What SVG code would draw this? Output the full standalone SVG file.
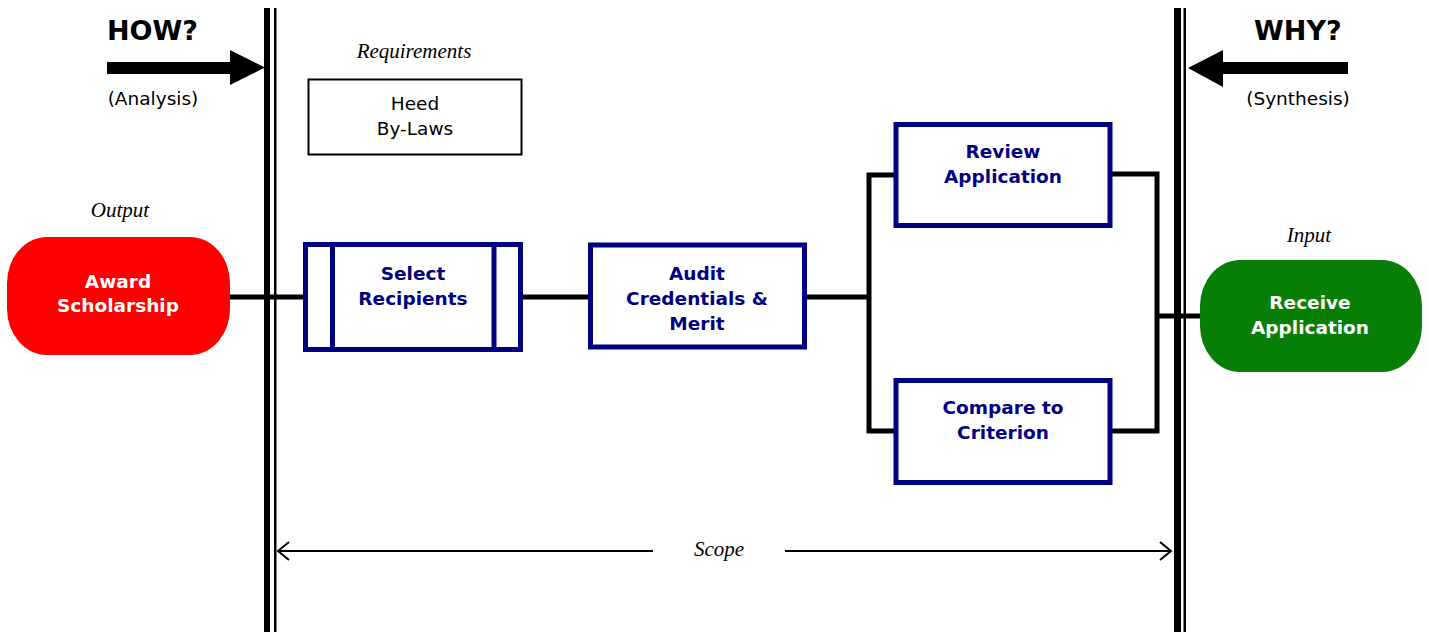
<svg xmlns="http://www.w3.org/2000/svg" width="1429" height="632" viewBox="0 0 1429 632">
<style>
.bar{fill:#000}
.box{fill:#fff;stroke:#000080;stroke-width:5}
.bt{font-family:"DejaVu Sans",Verdana,sans-serif;font-weight:bold;font-size:18.5px;fill:#000080;text-anchor:middle}
.wt{font-family:"DejaVu Sans",Verdana,sans-serif;font-weight:bold;font-size:18.5px;fill:#fff;text-anchor:middle}
.rt{font-family:"DejaVu Sans",Verdana,sans-serif;font-size:18.5px;fill:#000;text-anchor:middle}
.it{font-family:"Liberation Serif","Times New Roman",serif;font-style:italic;font-size:21px;fill:#000;text-anchor:middle}
.ht{font-family:"DejaVu Sans",Verdana,sans-serif;font-weight:bold;font-size:27px;fill:#000}
.con{fill:none;stroke:#000;stroke-width:5}
</style>
<rect width="1429" height="632" fill="#fff"/>
<g id="left-boundary">
<rect class="bar" x="264" y="8" width="6" height="624"/>
<rect class="bar" x="274" y="8" width="2.5" height="624"/>
</g>
<g id="right-boundary">
<rect class="bar" x="1174" y="8" width="7" height="624"/>
<rect class="bar" x="1183.5" y="8" width="2.5" height="624"/>
</g>
<g id="how">
<text class="ht" x="107" y="40">HOW?</text>
<polygon points="107,62 230,62 230,50 265,67.5 230,85 230,74 107,74" fill="#000"/>
<text class="rt" x="153" y="105">(Analysis)</text>
</g>
<g id="why">
<text class="ht" x="1254" y="40">WHY?</text>
<polygon points="1348,62 1223,62 1223,50 1188,68 1223,87 1223,74 1348,74" fill="#000"/>
<text class="rt" x="1298" y="105">(Synthesis)</text>
</g>
<g id="connectors">
<line class="con" x1="230" y1="297" x2="304" y2="297"/>
<line class="con" x1="521" y1="297" x2="589" y2="297"/>
<line class="con" x1="805" y1="297" x2="869" y2="297"/>
<polyline class="con" points="894,175 869,175 869,431 894,431"/>
<polyline class="con" points="1112,174 1157,174 1157,431 1112,431"/>
<line class="con" x1="1157" y1="316" x2="1201" y2="316"/>
</g>
<g id="requirements">
<text class="it" x="414" y="58">Requirements</text>
<rect x="308.5" y="79.5" width="213" height="75" fill="#fff" stroke="#000" stroke-width="2"/>
<text class="rt" x="415" y="110">Heed</text>
<text class="rt" x="415" y="135">By-Laws</text>
</g>
<g id="award-scholarship">
<text class="it" x="120" y="217">Output</text>
<rect x="7" y="237" width="223" height="118" rx="40" ry="46" fill="#ff0000"/>
<text class="wt" x="118" y="288">Award</text>
<text class="wt" x="118" y="312">Scholarship</text>
</g>
<g id="select-recipients">
<rect class="box" x="305.5" y="244.5" width="215" height="105"/>
<line x1="332.5" y1="244.5" x2="332.5" y2="349.5" stroke="#000080" stroke-width="5"/>
<line x1="494" y1="244.5" x2="494" y2="349.5" stroke="#000080" stroke-width="5"/>
<text class="bt" x="413" y="280">Select</text>
<text class="bt" x="413" y="305">Recipients</text>
</g>
<g id="audit">
<rect class="box" x="590.5" y="245" width="214" height="102"/>
<text class="bt" x="697" y="280">Audit</text>
<text class="bt" x="697" y="305">Credentials &amp;</text>
<text class="bt" x="697" y="330">Merit</text>
</g>
<g id="review-application">
<rect class="box" x="896" y="124.5" width="214" height="101"/>
<text class="bt" x="1003" y="158">Review</text>
<text class="bt" x="1003" y="183">Application</text>
</g>
<g id="compare-criterion">
<rect class="box" x="896" y="380.5" width="214" height="102"/>
<text class="bt" x="1003" y="414">Compare to</text>
<text class="bt" x="1003" y="439">Criterion</text>
</g>
<g id="receive-application">
<text class="it" x="1309" y="242">Input</text>
<rect x="1200" y="260" width="222" height="112" rx="40" ry="46" fill="#077f07"/>
<text class="wt" x="1310" y="309">Receive</text>
<text class="wt" x="1310" y="334">Application</text>
</g>
<g id="scope">
<line x1="278" y1="551" x2="653" y2="551" stroke="#000" stroke-width="2"/>
<line x1="785" y1="551" x2="1171" y2="551" stroke="#000" stroke-width="2"/>
<polyline points="289,542 278,551 289,560" fill="none" stroke="#000" stroke-width="2"/>
<polyline points="1160,542 1171,551 1160,560" fill="none" stroke="#000" stroke-width="2"/>
<text class="it" x="719" y="556">Scope</text>
</g>
</svg>
